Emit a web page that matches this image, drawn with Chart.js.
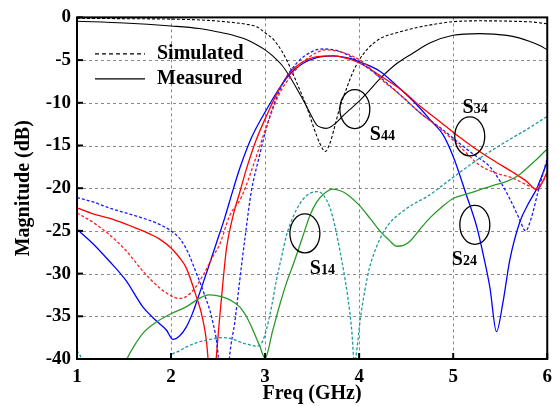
<!DOCTYPE html>
<html>
<head>
<meta charset="utf-8">
<script src="https://cdn.jsdelivr.net/npm/chart.js@4/dist/chart.umd.min.js"></script>
<style>
  html, body { margin: 0; padding: 0; background: #fff; }
  #wrap { width: 559px; height: 406px; position: relative; }
</style>
</head>
<body>
<div id="wrap"><canvas id="sChart"></canvas></div>
<script>
// S44 simulated / measured
const s44SimFreq = [1, 1.5, 2, 2.4, 2.66, 2.8, 2.91, 3.0, 3.09, 3.18, 3.26, 3.35, 3.44, 3.52, 3.58, 3.64, 3.69, 3.74, 3.79, 3.86, 3.93, 4.0, 4.08, 4.22, 4.4, 4.57, 4.8, 5.0, 5.3, 5.63, 5.85, 6.0];
const s44SimDb = [-0.1, -0.15, -0.2, -0.35, -0.6, -0.8, -1.1, -1.8, -2.6, -4.0, -5.7, -8.0, -10.4, -13.0, -14.7, -15.7, -14.7, -12.8, -10.7, -8.5, -6.5, -5.0, -3.8, -2.5, -1.8, -1.3, -0.8, -0.5, -0.4, -0.45, -0.55, -0.75];
const s44MeasFreq = [1, 1.5, 2, 2.3, 2.5, 2.66, 2.8, 2.91, 3.0, 3.09, 3.18, 3.26, 3.35, 3.44, 3.5, 3.55, 3.6, 3.65, 3.7, 3.76, 3.83, 3.9, 4.0, 4.08, 4.22, 4.4, 4.57, 4.75, 5.0, 5.28, 5.57, 5.7, 5.81, 5.92, 6.0];
const s44MeasDb = [-0.45, -0.65, -1.0, -1.3, -1.7, -2.1, -2.6, -3.2, -3.8, -4.6, -5.6, -6.9, -8.6, -10.4, -11.7, -12.6, -12.9, -13.0, -12.8, -12.3, -11.5, -10.8, -9.8, -8.9, -7.2, -5.4, -4.2, -3.0, -2.1, -1.9, -2.1, -2.4, -2.8, -3.3, -3.8];

// S34
const s34SimFreq = [1, 1.17, 1.34, 1.52, 1.7, 1.87, 2.0, 2.08, 2.16, 2.26, 2.35, 2.44, 2.52, 2.62, 2.75, 2.9, 3.02, 3.15, 3.3, 3.45, 3.65, 3.85, 4.05, 4.22, 4.45, 4.65, 4.86, 5.05, 5.28, 5.45, 5.63, 5.78, 5.88, 6.0];
const s34SimDb = [-22.9, -24.0, -25.4, -27.3, -29.7, -31.6, -32.6, -32.9, -32.7, -31.6, -30.0, -28.1, -26.5, -23.3, -21.0, -16.5, -12.6, -9.0, -6.5, -4.8, -3.8, -4.2, -5.3, -7.1, -9.2, -11.2, -13.0, -14.9, -17.3, -18.2, -18.8, -19.6, -20.0, -18.5];
const s34MeasFreq = [1, 1.17, 1.34, 1.52, 1.7, 1.87, 2.0, 2.08, 2.16, 2.26, 2.34, 2.39, 2.43, 2.48, 2.54, 2.59, 2.66, 2.73, 2.8, 2.9, 3.02, 3.14, 3.26, 3.4, 3.55, 3.72, 3.9, 4.05, 4.22, 4.45, 4.65, 4.87, 5.03, 5.28, 5.45, 5.63, 5.78, 5.89, 6.0];
const s34MeasDb = [-22.3, -23.0, -23.5, -24.2, -25.0, -25.9, -27.0, -28.0, -29.3, -32.4, -35.5, -39.5, -48, -40, -32.4, -27.0, -23.2, -20.5, -17.8, -14.5, -11.4, -8.6, -6.5, -5.2, -4.6, -4.5, -4.9, -5.6, -6.8, -8.5, -10.4, -12.3, -13.7, -15.7, -16.9, -18.1, -19.2, -20.2, -18.1];

// S24
const s24SimFreq = [1, 1.17, 1.34, 1.52, 1.7, 1.87, 2.0, 2.1, 2.18, 2.26, 2.35, 2.44, 2.5, 2.56, 2.62, 2.68, 2.73, 2.79, 2.85, 2.94, 3.02, 3.1, 3.2, 3.35, 3.5, 3.62, 3.8, 4.0, 4.22, 4.45, 4.65, 4.86, 5.05, 5.2, 5.39, 5.5, 5.6, 5.7, 5.77, 5.83, 5.9, 6.0];
const s24SimDb = [-21.1, -21.6, -22.3, -22.9, -23.5, -24.2, -25.0, -26.0, -27.5, -29.7, -32.3, -35.5, -39.5, -50, -40, -35.5, -30.8, -25.5, -20.6, -16.2, -12.7, -10.0, -7.5, -5.2, -4.0, -3.7, -4.0, -5.2, -7.0, -9.2, -11.2, -12.9, -14.6, -15.9, -17.5, -19.2, -21.2, -23.5, -25.0, -23.5, -20.5, -16.5];
const s24MeasFreq = [1, 1.17, 1.34, 1.52, 1.7, 1.84, 1.95, 2.02, 2.09, 2.16, 2.23, 2.3, 2.39, 2.48, 2.57, 2.64, 2.73, 2.85, 3.02, 3.14, 3.26, 3.4, 3.55, 3.72, 3.9, 4.05, 4.22, 4.4, 4.61, 4.78, 4.89, 5.0, 5.14, 5.25, 5.32, 5.39, 5.46, 5.53, 5.6, 5.71, 5.8, 5.89, 6.0];
const s24MeasDb = [-24.8, -26.5, -28.5, -30.8, -33.9, -35.5, -36.6, -37.7, -37.3, -36.3, -34.6, -32.4, -29.5, -26.5, -23.5, -20.9, -17.7, -14.2, -10.7, -8.5, -6.7, -5.4, -4.7, -4.5, -4.8, -5.4, -6.3, -8.0, -10.2, -12.3, -13.7, -16.3, -20.8, -24.5, -27.8, -31.6, -36.8, -33.3, -28.5, -23.9, -21.8, -20.0, -16.9];

// S14
const s14SimFreq = [1, 1.05, 1.1, 1.5, 1.95, 2.0, 2.08, 2.16, 2.27, 2.38, 2.47, 2.55, 2.64, 2.73, 2.82, 2.91, 2.97, 3.02, 3.07, 3.12, 3.18, 3.23, 3.3, 3.37, 3.45, 3.55, 3.62, 3.69, 3.74, 3.79, 3.84, 3.88, 3.92, 3.95, 3.98, 4.01, 4.06, 4.11, 4.18, 4.25, 4.33, 4.43, 4.57, 4.72, 4.93, 5.1, 5.28, 5.45, 5.63, 5.8, 5.97, 6.0];
const s14SimDb = [-39.0, -40, -42, -55, -42, -39.7, -39.1, -38.6, -38.1, -37.8, -37.6, -37.5, -37.6, -38.0, -38.3, -38.5, -38.0, -36.3, -33.8, -30.8, -27.8, -25.4, -23.3, -21.8, -20.8, -20.4, -20.8, -22.3, -24.3, -27.0, -30.0, -32.8, -36.5, -40.5, -38.5, -35.5, -32.0, -29.3, -27.0, -25.3, -24.0, -23.0, -21.9, -21.0, -19.3, -17.9, -16.5, -15.3, -14.1, -13.0, -11.8, -11.6];
const s14MeasFreq = [1.45, 1.53, 1.6, 1.7, 1.84, 2.0, 2.16, 2.3, 2.4, 2.5, 2.59, 2.66, 2.73, 2.8, 2.87, 2.94, 3.0, 3.08, 3.16, 3.23, 3.3, 3.39, 3.48, 3.55, 3.62, 3.72, 3.8, 3.87, 4.01, 4.12, 4.22, 4.32, 4.4, 4.47, 4.54, 4.64, 4.75, 4.88, 5.0, 5.14, 5.28, 5.42, 5.57, 5.68, 5.78, 5.9, 6.0];
const s14MeasDb = [-42, -40, -38.6, -37.0, -35.7, -34.7, -33.9, -32.9, -32.5, -32.6, -32.9, -33.3, -33.9, -35.0, -36.6, -38.4, -39.9, -36.7, -33.5, -31.0, -28.9, -26.0, -23.1, -21.6, -20.7, -20.1, -20.3, -20.7, -22.1, -23.6, -25.0, -26.1, -26.8, -26.7, -26.2, -24.9, -23.5, -22.2, -21.2, -20.7, -20.2, -19.7, -19.2, -18.6, -17.7, -16.5, -15.4];

// axes
const freqTicks = [1, 2, 3, 4, 5, 6];
const dbTicks = [0, -5, -10, -15, -20, -25, -30, -35, -40];

// circled labels: centre of circle and label anchor, in data units
const noteSub = ['44', '34', '14', '24'];
const noteFreq = [3.954, 5.176, 3.423, 5.23];
const noteDb = [-10.74, -13.94, -25.3, -24.3];
const labelFreq = [4.114, 5.10, 3.476, 4.985];
const labelDb = [-14.3, -11.2, -30.0, -29.0];

const legendNames = ['Simulated', 'Measured'];

const serif = "'Liberation Serif', 'Times New Roman', serif";

function pts(f, d) {
    return f.map((x, i) => ({ x: x, y: d[i] }));
}

function line(data, color, dashed, width) {
    return {
        data: data,
        borderColor: color,
        borderWidth: width || 1.3,
        borderDash: dashed ? [3, 2] : [],
        pointRadius: 0,
        fill: false,
        cubicInterpolationMode: 'monotone'
    };
}

// dashed grid, drawn under the curves
const dashedGrid = {
    id: 'dashedGrid',
    beforeDatasetsDraw(chart) {
        const ctx = chart.ctx;
        const a = chart.chartArea;
        const xs = chart.scales.x;
        const ys = chart.scales.y;
        ctx.save();
        ctx.strokeStyle = '#8a8a8a';
        ctx.lineWidth = 1;
        ctx.setLineDash([3, 3]);
        freqTicks.slice(1, -1).forEach(v => {
            const px = Math.round(xs.getPixelForValue(v)) + 0.5;
            ctx.beginPath();
            ctx.moveTo(px, a.top);
            ctx.lineTo(px, a.bottom);
            ctx.stroke();
        });
        dbTicks.slice(1, -1).forEach(v => {
            const py = Math.round(ys.getPixelForValue(v)) + 0.5;
            ctx.beginPath();
            ctx.moveTo(a.left, py);
            ctx.lineTo(a.right, py);
            ctx.stroke();
        });
        ctx.restore();
    }
};

const frameAndNotes = {
    id: 'frameAndNotes',
    afterDatasetsDraw(chart) {
        const ctx = chart.ctx;
        const a = chart.chartArea;
        const xs = chart.scales.x;
        const ys = chart.scales.y;
        ctx.save();

        // frame
        ctx.strokeStyle = '#000';
        ctx.lineWidth = 2;
        ctx.setLineDash([]);
        ctx.strokeRect(a.left, a.top, a.right - a.left, a.bottom - a.top);

        // inner ticks
        freqTicks.forEach(v => {
            const px = xs.getPixelForValue(v);
            ctx.beginPath();
            ctx.moveTo(px, a.bottom);
            ctx.lineTo(px, a.bottom - 6);
            ctx.stroke();
        });
        dbTicks.forEach(v => {
            const py = ys.getPixelForValue(v);
            ctx.beginPath();
            ctx.moveTo(a.left, py);
            ctx.lineTo(a.left + 6, py);
            ctx.stroke();
        });

        // circles + S labels
        ctx.lineWidth = 1.3;
        ctx.fillStyle = '#000';
        noteSub.forEach((sub, i) => {
            const cx = xs.getPixelForValue(noteFreq[i]);
            const cy = ys.getPixelForValue(noteDb[i]);
            ctx.beginPath();
            ctx.ellipse(cx, cy, 15, 19.5, 0, 0, Math.PI * 2);
            ctx.stroke();

            const lx = xs.getPixelForValue(labelFreq[i]);
            const ly = ys.getPixelForValue(labelDb[i]);
            ctx.textBaseline = 'alphabetic';
            ctx.textAlign = 'left';
            ctx.font = 'bold 20px ' + serif;
            ctx.fillText('S', lx, ly);
            const w = ctx.measureText('S').width;
            ctx.font = 'bold 14px ' + serif;
            ctx.fillText(sub, lx + w, ly);
        });

        // legend
        const lx0 = a.left + 18;
        const rows = [a.top + 36.5, a.top + 61.5];
        ctx.lineWidth = 1.3;
        rows.forEach((y, i) => {
            ctx.setLineDash(i === 0 ? [4, 3] : []);
            ctx.beginPath();
            ctx.moveTo(lx0, y);
            ctx.lineTo(lx0 + 50, y);
            ctx.stroke();
            ctx.setLineDash([]);
            ctx.font = 'bold 20px ' + serif;
            ctx.textBaseline = 'middle';
            ctx.fillText(legendNames[i], a.left + 80, y);
        });
        ctx.restore();
    }
};

new Chart(document.getElementById('sChart'), {
    type: 'line',
    data: {
        datasets: [
            line(pts(s14SimFreq, s14SimDb), '#1f9a9a', true),
            line(pts(s14MeasFreq, s14MeasDb), '#2a9a2a', false),
            line(pts(s34SimFreq, s34SimDb), '#ff2020', true),
            line(pts(s24SimFreq, s24SimDb), '#1a1aff', true),
            line(pts(s34MeasFreq, s34MeasDb), '#ff0000', false),
            line(pts(s24MeasFreq, s24MeasDb), '#0000ff', false),
            line(pts(s44SimFreq, s44SimDb), '#000', true, 1.1),
            line(pts(s44MeasFreq, s44MeasDb), '#000', false, 1.1)
        ]
    },
    options: {
        responsive: true,
        maintainAspectRatio: false,
        animation: false,
        layout: { padding: { top: 14, right: 11, left: 0, bottom: 0 } },
        plugins: {
            legend: { display: false },
            tooltip: { enabled: false }
        },
        scales: {
            x: {
                type: 'linear',
                min: 1,
                max: 6,
                afterFit: s => { s.height = 47; },
                afterBuildTicks: s => { s.ticks = freqTicks.map(v => ({ value: v })); },
                ticks: {
                    padding: 7,
                    color: '#000',
                    font: { family: serif, size: 19, weight: 'bold' }
                },
                grid: { display: false, drawTicks: false },
                border: { display: false },
                title: {
                    display: true,
                    text: 'Freq (GHz)',
                    color: '#000',
                    padding: { top: 0, bottom: 0 },
                    font: { family: serif, size: 20, weight: 'bold' }
                }
            },
            y: {
                type: 'linear',
                min: -40,
                max: 0,
                afterFit: s => { s.width = 77; },
                afterBuildTicks: s => { s.ticks = dbTicks.map(v => ({ value: v })); },
                ticks: {
                    padding: 6,
                    color: '#000',
                    font: { family: serif, size: 19, weight: 'bold' }
                },
                grid: { display: false, drawTicks: false },
                border: { display: false },
                title: {
                    display: true,
                    text: 'Magnitude (dB)',
                    color: '#000',
                    padding: { top: 12, bottom: 0 },
                    font: { family: serif, size: 20, weight: 'bold' }
                }
            }
        }
    },
    plugins: [dashedGrid, frameAndNotes]
});
</script>
</body>
</html>
